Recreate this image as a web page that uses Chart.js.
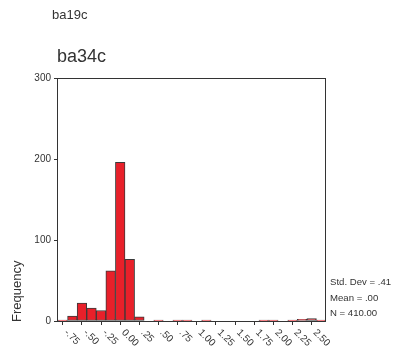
<!DOCTYPE html>
<html>
<head>
<meta charset="utf-8">
<script src="https://cdn.jsdelivr.net/npm/chart.js@4/dist/chart.umd.min.js"></script>
<style>
  html, body { margin: 0; padding: 0; background: #fff; }
  #wrap { width: 396px; height: 352px; position: relative; }
</style>
</head>
<body>
<div id="wrap"><canvas id="c" width="396" height="352"></canvas></div>
<script>
// Histogram of ba34c (bin midpoints, width .125)
const binMidpoints = [-0.75, -0.625, -0.5, -0.375, -0.25, -0.125, 0, 0.125, 0.25, 0.375,
  0.5, 0.625, 0.75, 0.875, 1.0, 1.125, 1.25, 1.375, 1.5, 1.625,
  1.75, 1.875, 2.0, 2.125, 2.25, 2.375, 2.5, 2.625];
const frequencies = [1, 6, 22, 16, 13, 62, 196, 76, 5, 0,
  1, 0, 1, 1, 0, 1, 0, 0, 0, 0,
  0, 1, 1, 0, 1, 2, 3, 1];
// Labels shown on every other bin
const xTickLabels = ['-.75', '-.50', '-.25', '0.00', '.25', '.50', '.75', '1.00',
  '1.25', '1.50', '1.75', '2.00', '2.25', '2.50'];
const yTicks = [0, 100, 200, 300];
const statLines = ['Std. Dev = .41', 'Mean = .00', 'N = 410.00'];
const pageTitle = 'ba19c';
const chartTitle = 'ba34c';
const yAxisTitle = 'Frequency';

const INK = '#333333';
const FONT = 'Arial, "Liberation Sans", sans-serif';

function labelFor(i) {
  return i % 2 === 0 ? (xTickLabels[i / 2] || '') : '';
}

const decorations = {
  id: 'decorations',
  afterDraw(chart) {
    const ctx = chart.ctx;
    const a = chart.chartArea;
    const xs = chart.scales.x;
    ctx.save();
    // frame around the plot
    ctx.strokeStyle = INK;
    ctx.lineWidth = 1;
    ctx.strokeRect(Math.round(a.left) - 0.5, Math.round(a.top) + 0.5,
      Math.round(a.right - a.left), Math.round(a.bottom - a.top));

    // titles
    ctx.fillStyle = INK;
    ctx.textAlign = 'left';
    ctx.textBaseline = 'alphabetic';
    ctx.font = '13px ' + FONT;
    ctx.fillText(pageTitle, 52, 19);
    ctx.font = '18px ' + FONT;
    ctx.fillText(chartTitle, 57, 62);

    // y axis title
    ctx.save();
    ctx.translate(21, 322);
    ctx.rotate(-Math.PI / 2);
    ctx.font = '13px ' + FONT;
    ctx.textBaseline = 'alphabetic';
    ctx.fillText(yAxisTitle, 0, 0);
    ctx.restore();

    // rotated x tick labels
    ctx.font = '10px ' + FONT;
    ctx.textBaseline = 'middle';
    ctx.textAlign = 'left';
    binMidpoints.forEach((v, i) => {
      const t = labelFor(i);
      if (!t) return;
      const px = xs.getPixelForTick(i);
      ctx.save();
      ctx.translate(px + 3, a.bottom + 10);
      ctx.rotate(Math.PI / 4);
      ctx.fillText(t, 0, 0);
      ctx.restore();
    });

    // statistics
    ctx.font = '9.6px ' + FONT;
    ctx.textBaseline = 'alphabetic';
    statLines.forEach((s, i) => {
      ctx.fillText(s, a.right + 4, 285 + i * 15.5);
    });
    ctx.restore();
  }
};

new Chart(document.getElementById('c'), {
  type: 'bar',
  data: {
    labels: binMidpoints.map(String),
    datasets: [{
      data: frequencies,
      backgroundColor: '#e8202a',
      borderColor: '#3a3a3a',
      borderWidth: 1,
      borderSkipped: false,
      categoryPercentage: 1.0,
      barPercentage: 1.0
    }]
  },
  options: {
    responsive: false,
    animation: false,
    devicePixelRatio: 1,
    layout: { padding: { left: 0, top: 78, right: 70, bottom: 0 } },
    plugins: {
      legend: { display: false },
      tooltip: { enabled: false },
      title: { display: false }
    },
    scales: {
      x: {
        type: 'category',
        offset: true,
        border: { display: false },
        grid: {
          offset: false,
          drawOnChartArea: false,
          drawTicks: true,
          tickLength: 4,
          color: (c) => (c.index % 2 === 0 && labelFor(c.index)) ? INK : 'rgba(0,0,0,0)'
        },
        ticks: { display: false },
        afterFit(scale) { scale.height = 31; }
      },
      y: {
        min: 0,
        max: 300,
        border: { display: false },
        grid: {
          drawOnChartArea: false,
          drawTicks: true,
          tickLength: 4,
          color: INK
        },
        afterBuildTicks(scale) { scale.ticks = yTicks.map(v => ({ value: v })); },
        ticks: {
          color: INK,
          padding: 3,
          font: { family: FONT, size: 10 }
        },
        afterFit(scale) { scale.width = 58; }
      }
    }
  },
  plugins: [decorations]
});
</script>
</body>
</html>
